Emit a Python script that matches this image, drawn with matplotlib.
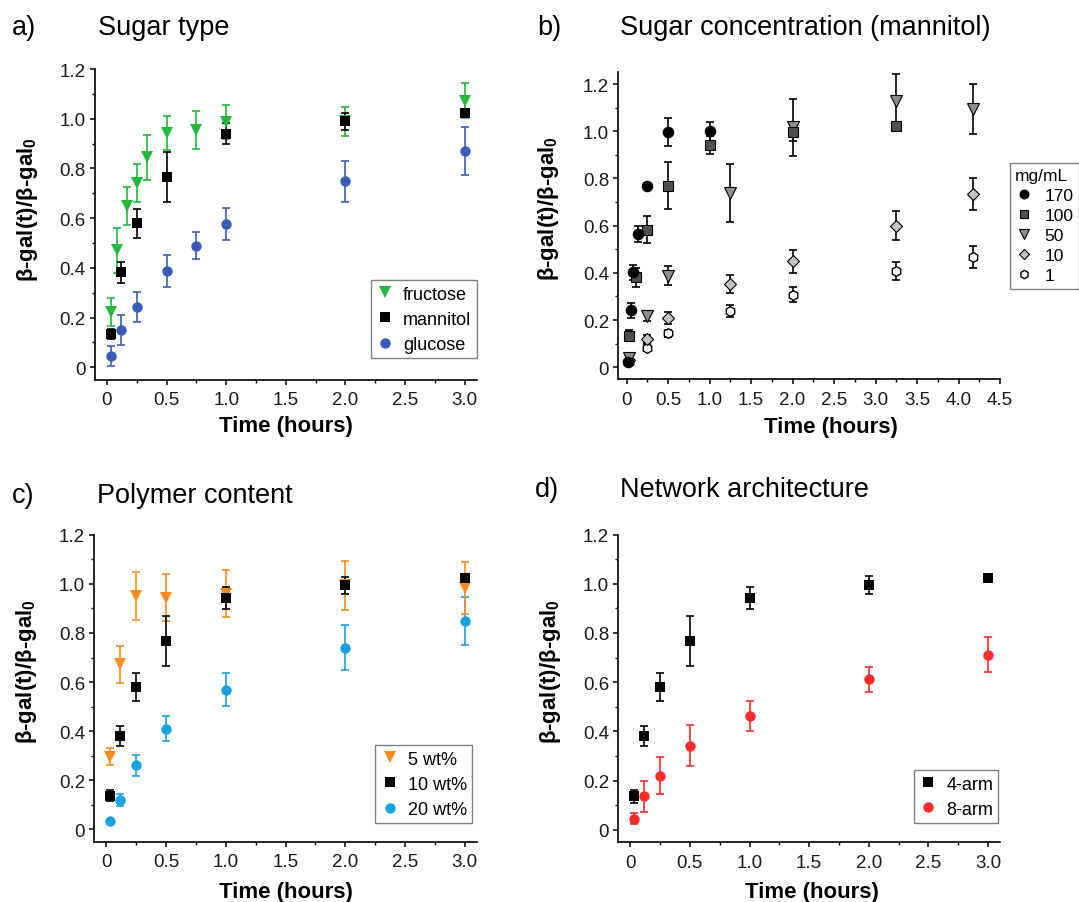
import numpy as np
import matplotlib.pyplot as plt
from matplotlib.ticker import MultipleLocator, FuncFormatter

plt.rcParams['font.family'] = ['Liberation Sans', 'DejaVu Sans']
plt.rcParams['mathtext.fontset'] = 'custom'
plt.rcParams['mathtext.rm'] = 'Liberation Sans:bold'
plt.rcParams['mathtext.default'] = 'rm'

# a) sugar type
t_fru = [0.033, 0.083, 0.167, 0.25, 0.333, 0.5, 0.75, 1.0, 2.0, 3.0]
y_fru = [0.222, 0.47, 0.649, 0.741, 0.845, 0.943, 0.956, 0.987, 0.99, 1.073]
e_fru = [0.055, 0.09, 0.075, 0.077, 0.09, 0.07, 0.077, 0.068, 0.058, 0.07]

t_man = [0.033, 0.117, 0.25, 0.5, 1.0, 2.0, 3.0]
y_man = [0.134, 0.382, 0.58, 0.765, 0.94, 0.99, 1.023]
e_man = [0.022, 0.042, 0.058, 0.1, 0.043, 0.035, 0.008]

t_glu = [0.033, 0.117, 0.25, 0.5, 0.75, 1.0, 2.0, 3.0]
y_glu = [0.047, 0.15, 0.242, 0.386, 0.49, 0.577, 0.748, 0.87]
e_glu = [0.04, 0.06, 0.06, 0.064, 0.054, 0.065, 0.083, 0.097]

# b) mannitol concentration (mg/mL)
t_170 = [0.017, 0.05, 0.083, 0.133, 0.25, 0.5, 1.0]
y_170 = [0.024, 0.241, 0.403, 0.565, 0.77, 0.996, 1.0]
e_170 = [0.01, 0.033, 0.032, 0.035, 0.01, 0.06, 0.04]

t_100 = [0.033, 0.117, 0.25, 0.5, 1.0, 2.0, 3.25]
y_100 = [0.134, 0.381, 0.583, 0.77, 0.942, 0.995, 1.024]
e_100 = [0.025, 0.04, 0.057, 0.1, 0.04, 0.035, 0.01]

t_50 = [0.033, 0.25, 0.5, 1.25, 2.0, 3.25, 4.17]
y_50 = [0.038, 0.216, 0.388, 0.739, 1.017, 1.13, 1.094]
e_50 = [0.01, 0.02, 0.04, 0.123, 0.12, 0.112, 0.105]

t_10 = [0.033, 0.25, 0.5, 1.25, 2.0, 3.25, 4.17]
y_10 = [0.03, 0.12, 0.208, 0.353, 0.449, 0.6, 0.734]
e_10 = [0.01, 0.015, 0.025, 0.038, 0.048, 0.06, 0.068]

t_1 = [0.033, 0.25, 0.5, 1.25, 2.0, 3.25, 4.17]
y_1 = [0.022, 0.083, 0.144, 0.237, 0.308, 0.407, 0.466]
e_1 = [0.008, 0.015, 0.015, 0.025, 0.03, 0.037, 0.046]

# c) polymer content
t_pol = [0.033, 0.117, 0.25, 0.5, 1.0, 2.0, 3.0]
y_5 = [0.296, 0.672, 0.95, 0.943, 0.96, 0.994, 0.983]
e_5 = [0.035, 0.076, 0.097, 0.095, 0.097, 0.1, 0.104]
y_10w = [0.137, 0.381, 0.58, 0.767, 0.942, 0.994, 1.025]
e_10w = [0.022, 0.04, 0.057, 0.1, 0.045, 0.035, 0.008]
y_20 = [0.034, 0.119, 0.261, 0.41, 0.569, 0.74, 0.847]
e_20 = [0.0, 0.025, 0.044, 0.05, 0.066, 0.092, 0.098]

# d) network architecture
t_arm = [0.033, 0.117, 0.25, 0.5, 1.0, 2.0, 3.0]
y_4arm = [0.136, 0.381, 0.582, 0.767, 0.942, 0.995, 1.025]
e_4arm = [0.025, 0.04, 0.057, 0.1, 0.045, 0.035, 0.008]
y_8arm = [0.045, 0.136, 0.221, 0.343, 0.462, 0.612, 0.712]
e_8arm = [0.022, 0.061, 0.075, 0.085, 0.062, 0.05, 0.072]

W, H = 1079, 903
fig = plt.figure(figsize=(W / 100, H / 100), dpi=100)


def px_axes(l, r, t, b):
    return fig.add_axes([l / W, 1 - b / H, (r - l) / W, (b - t) / H])


def fmt(v, pos):
    return '0' if abs(v) < 1e-9 else f'{v:.1f}'


def estilo(ax, xlim, ylim, ymax_tick):
    ax.set_xlim(*xlim)
    ax.set_ylim(*ylim)
    for s in ['top', 'right']:
        ax.spines[s].set_visible(False)
    for s in ['left', 'bottom']:
        ax.spines[s].set_linewidth(1.2)
    ax.xaxis.set_major_locator(MultipleLocator(0.5))
    ax.xaxis.set_minor_locator(MultipleLocator(0.25))
    ax.set_yticks(np.arange(0, ymax_tick + 0.01, 0.2))
    ax.yaxis.set_minor_locator(MultipleLocator(0.1))
    ax.xaxis.set_major_formatter(FuncFormatter(fmt))
    ax.yaxis.set_major_formatter(FuncFormatter(fmt))
    ax.tick_params(which='major', direction='out', length=3.6, width=1.1,
                   labelsize=13.5, labelcolor='#1a1a1a')
    ax.tick_params(axis='x', which='major', pad=4.8)
    ax.tick_params(axis='y', which='major', pad=3.0)
    ax.tick_params(which='minor', direction='out', length=2.4, width=1.0)
    ax.set_xlabel('Time (hours)', fontsize=16, fontweight='bold', va='top')
    ax.set_ylabel(r'β-gal(t)/β-gal$_0$', fontsize=16, fontweight='bold')


def serie(ax, t, y, e, marker, ms, fc, ec, ecol, label, mew=0.8):
    ax.errorbar(t, y, yerr=e, fmt='none', ecolor=ecol, elinewidth=1.2,
                capsize=3, capthick=1.2, zorder=2)
    ax.plot(t, y, ls='none', marker=marker, ms=ms, mfc=fc, mec=ec,
            mew=mew, label=label, zorder=3)


leg_kw = dict(fancybox=False, framealpha=1, edgecolor='#808080',
              borderaxespad=0, handlelength=1.0)

green, blue = '#22b93c', '#3a5cb4'
orange, lblue, red = '#ff8a1c', '#1ba1df', '#ff2a2a'

# a)
ax = px_axes(95, 476.7, 70.1, 380.7)
estilo(ax, (-0.1, 3.1), (-0.05, 1.2), 1.2)
serie(ax, t_glu, y_glu, e_glu, 'o', 7.5, blue, blue, blue, 'glucose', 0)
serie(ax, t_fru, y_fru, e_fru, 'v', 9, green, green, green, 'fructose', 0)
serie(ax, t_man, y_man, e_man, 's', 6.5, 'black', 'black', 'black', 'mannitol', 0)
h, l = ax.get_legend_handles_labels()
ax.legend([h[1], h[2], h[0]], [l[1], l[2], l[0]], loc='lower right',
          bbox_to_anchor=(1.0, 0.069), fontsize=13, labelspacing=0.45,
          borderpad=0.3, handletextpad=0.5, **leg_kw)
ax.yaxis.set_label_coords(-0.144, 0.55)
ax.xaxis.set_label_coords(0.5, -0.115)

# b)
ax = px_axes(618.3, 1000, 73.3, 380)
estilo(ax, (-0.1, 4.5), (-0.05, 1.25), 1.2)
serie(ax, t_1, y_1, e_1, 'h', 7, 'white', 'black', 'black', '1', 1.0)
serie(ax, t_10, y_10, e_10, 'D', 6.5, '#c4c4c4', 'black', 'black', '10', 0.8)
serie(ax, t_50, y_50, e_50, 'v', 9, '#8c8c8c', 'black', 'black', '50', 0.8)
serie(ax, t_100, y_100, e_100, 's', 7, '#4f4f4f', 'black', 'black', '100', 0.8)
serie(ax, t_170, y_170, e_170, 'o', 7.5, 'black', 'black', 'black', '170', 0.8)
h, l = ax.get_legend_handles_labels()
lg = ax.legend(h[::-1], l[::-1], loc='upper left', bbox_to_anchor=(1.026, 0.704),
               title='mg/mL', title_fontsize=12.5, fontsize=12.5, labelspacing=0.28,
               borderpad=0.3, handletextpad=0.7, markerscale=0.85, **leg_kw)
lg._legend_box.align = 'left'
ax.yaxis.set_label_coords(-0.149, 0.56)
ax.xaxis.set_label_coords(0.557, -0.12)

# c)
ax = px_axes(94.3, 476.7, 535.7, 842.7)
estilo(ax, (-0.1, 3.1), (-0.05, 1.2), 1.2)
serie(ax, t_pol, y_20, e_20, 'o', 7.5, lblue, lblue, lblue, '20 wt%', 0)
serie(ax, t_pol, y_5, e_5, 'v', 9, orange, orange, orange, '5 wt%', 0)
serie(ax, t_pol, y_10w, e_10w, 's', 6.5, 'black', 'black', 'black', '10 wt%', 0)
h, l = ax.get_legend_handles_labels()
ax.legend([h[1], h[2], h[0]], [l[1], l[2], l[0]], loc='lower right',
          bbox_to_anchor=(0.989, 0.06), fontsize=13, labelspacing=0.45,
          borderpad=0.3, handletextpad=0.5, **leg_kw)
ax.yaxis.set_label_coords(-0.144, 0.557)
ax.xaxis.set_label_coords(0.5, -0.127)

# d)
ax = px_axes(618.3, 1000, 535.5, 843.3)
estilo(ax, (-0.1, 3.1), (-0.05, 1.2), 1.2)
serie(ax, t_arm, y_8arm, e_8arm, 'o', 7.5, red, red, red, '8-arm', 0)
serie(ax, t_arm, y_4arm, e_4arm, 's', 6.5, 'black', 'black', 'black', '4-arm', 0)
h, l = ax.get_legend_handles_labels()
ax.legend([h[1], h[0]], [l[1], l[0]], loc='lower right',
          bbox_to_anchor=(0.996, 0.062), fontsize=13, labelspacing=0.45,
          borderpad=0.3, handletextpad=0.5, **leg_kw)
ax.yaxis.set_label_coords(-0.144, 0.557)
ax.xaxis.set_label_coords(0.507, -0.125)

# panel letters and titles
titulos = [('a)', 'Sugar type', 12, 98, 35),
           ('b)', 'Sugar concentration (mannitol)', 537, 620, 35),
           ('c)', 'Polymer content', 12, 97, 503),
           ('d)', 'Network architecture', 535, 620, 497)]
for letra, texto, xl, xt, yb in titulos:
    fig.text(xl / W, 1 - yb / H, letra, fontsize=19.5, va='baseline')
    fig.text(xt / W, 1 - yb / H, texto, fontsize=19.5, va='baseline')

fig.savefig('out.png', dpi=100)
